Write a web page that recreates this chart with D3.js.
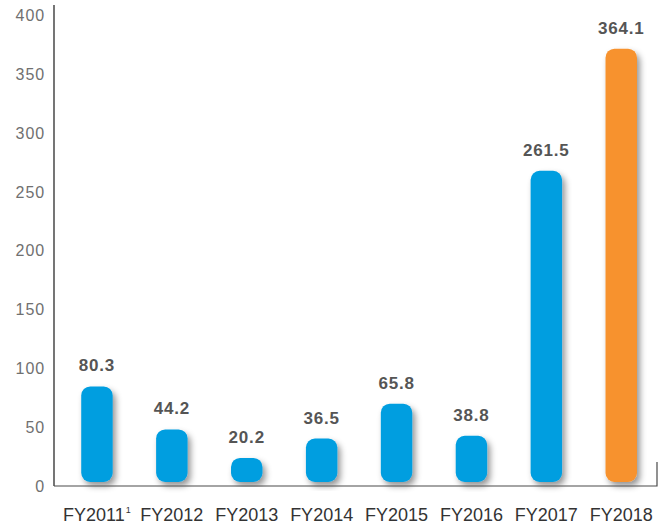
<!DOCTYPE html>
<html>
<head>
<meta charset="utf-8">
<script src="https://cdn.jsdelivr.net/npm/d3@7"></script>
<style>
  html, body { margin: 0; padding: 0; background: #fff; }
  svg { display: block; font-family: "Liberation Sans", Arial, Helvetica, sans-serif; }
</style>
</head>
<body>
<svg id="chart" width="667" height="526"></svg>
<script>
// Fiscal years and their values
const years = ["FY2011", "FY2012", "FY2013", "FY2014", "FY2015", "FY2016", "FY2017", "FY2018"];
const values = [80.3, 44.2, 20.2, 36.5, 65.8, 38.8, 261.5, 364.1];
const footnotes = ["1", "", "", "", "", "", "", ""];
const yTicks = [0, 50, 100, 150, 200, 250, 300, 350, 400];
const highlightYear = "FY2018";

const svg = d3.select("#chart");

// Drop shadow under each bar
const defs = svg.append("defs");
const shadow = defs.append("filter").attr("id", "barShadow")
  .attr("x", "-50%").attr("y", "-20%").attr("width", "200%").attr("height", "140%");
shadow.append("feDropShadow")
  .attr("dx", 3).attr("dy", 4).attr("stdDeviation", 3.2)
  .attr("flood-color", "#000").attr("flood-opacity", 0.42);

const axisX = 54, baseY = 486, rightX = 657;

// Axis scale and the bar scale (bars sit slightly above the baseline)
const y = d3.scaleLinear().domain([0, 400]).range([486, 15.5]);
const yBar = d3.scaleLinear().domain([0, 400]).range([482, 6]);
const x = d3.scaleBand().domain(years).range([59.5, 658.7])
  .paddingInner(0.58).paddingOuter(0.29);

// Y axis line
svg.append("line")
  .attr("x1", axisX).attr("x2", axisX).attr("y1", 5).attr("y2", baseY)
  .attr("stroke", "#1a1a1a").attr("stroke-width", 1.2);

// Y tick labels
const yAxis = d3.axisLeft(y).tickValues(yTicks).tickSize(0).tickPadding(0);
const yg = svg.append("g").attr("transform", `translate(${axisX - 9},0)`).call(yAxis);
yg.select(".domain").remove();
yg.selectAll("text")
  .attr("font-family", "Liberation Sans, Arial, sans-serif")
  .attr("font-size", 16).attr("letter-spacing", 0.9)
  .attr("fill", "#707070");

// Bars
svg.append("g").selectAll("rect").data(years).join("rect")
  .attr("x", d => x(d))
  .attr("width", x.bandwidth())
  .attr("y", (d, i) => yBar(values[i]))
  .attr("height", (d, i) => yBar(0) - yBar(values[i]))
  .attr("rx", 9).attr("ry", 9)
  .attr("fill", d => d === highlightYear ? "#F7922D" : "#009EE0")
  .attr("filter", "url(#barShadow)");

// Baseline with end tick
svg.append("path")
  .attr("d", `M${axisX},${baseY}H${rightX}V462`)
  .attr("fill", "none").attr("stroke", "#4a4a4a").attr("stroke-width", 1.2);

// Value labels
svg.append("g").selectAll("text").data(years).join("text")
  .attr("x", d => x(d) + x.bandwidth() / 2)
  .attr("y", (d, i) => yBar(values[i]) - 15)
  .attr("text-anchor", "middle")
  .attr("font-size", 17).attr("font-weight", "bold").attr("letter-spacing", 0.8)
  .attr("fill", "#555")
  .text((d, i) => values[i].toFixed(1));

// Category labels
const cat = svg.append("g").selectAll("text").data(years).join("text")
  .attr("x", d => x(d) + x.bandwidth() / 2)
  .attr("y", 521)
  .attr("text-anchor", "middle")
  .attr("font-size", 18)
  .attr("fill", "#333");
cat.append("tspan").text(d => d);
cat.append("tspan")
  .attr("font-size", 9).attr("dy", -8).attr("dx", 1)
  .text((d, i) => footnotes[i]);
</script>
</body>
</html>
